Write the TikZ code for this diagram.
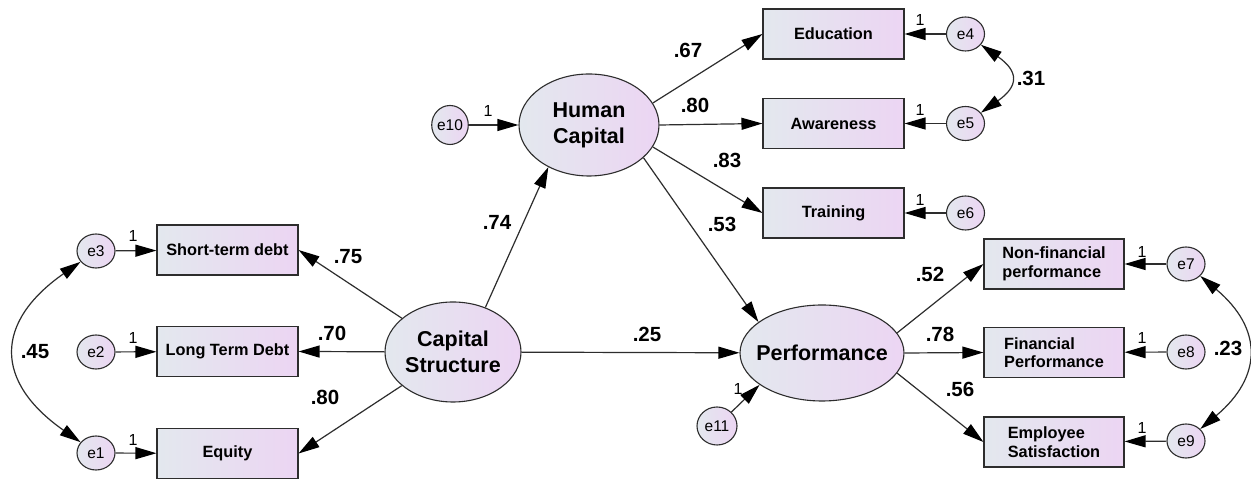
\documentclass[tikz,border=0pt]{standalone}
\usepackage{fontspec}
\setmainfont{Liberation Sans}
\usetikzlibrary{shapes.geometric,arrows.meta}

\definecolor{fillA}{RGB}{227,232,238}
\definecolor{fillB}{RGB}{236,213,243}
\definecolor{linec}{RGB}{45,45,45}

\tikzset{
  obs/.style={draw=linec, line width=1.1pt, rectangle, left color=fillA, right color=fillB,
    minimum width=141pt, minimum height=50pt, inner sep=0pt,
    font=\fontsize{16.3}{18.5}\selectfont\bfseries, align=left},
  latent/.style={draw=linec, line width=1.1pt, ellipse, left color=fillA, right color=fillB,
    inner sep=0pt},
  lattext/.style={font=\fontsize{21.5}{26}\selectfont\bfseries, align=center, inner sep=0pt},
  err/.style={draw=linec, line width=1.1pt, ellipse, left color=fillA, right color=fillB,
    minimum width=38pt, minimum height=34pt, inner sep=0pt,
    font=\fontsize{15.5}{17}\selectfont},
  coef/.style={font=\fontsize{20.5}{23}\selectfont\bfseries, inner sep=0pt},
  one/.style={font=\fontsize{16}{18}\selectfont, inner sep=0pt},
  tip/.style={Triangle[length=21pt,width=12pt,fill=black,color=black]},
  reg/.style={draw=linec, line width=1.2pt, -{Triangle[length=21pt,width=12pt,color=black]}},
  cov/.style={draw=linec, line width=1.2pt,
    {Triangle[length=21pt,width=12pt,color=black]}-{Triangle[length=21pt,width=12pt,color=black]}},
}

\begin{document}
\begin{tikzpicture}[x=1pt,y=1pt]
\useasboundingbox[fill=white] (0,0) rectangle (1251,481);

% Capital structure block
\node[latent, minimum width=136pt, minimum height=100pt,
  label={[lattext]center:Capital\\Structure}] (cs) at (453,129) {};
\node[obs] (std) at (227.5,231) {Short-term debt};
\node[obs] (ltd) at (227.5,129.5) {Long Term Debt};
\node[obs] (eq)  at (227.5,27.5) {Equity};
\node[err] (e3) at (96,230) {e3};
\node[err] (e2) at (96,129) {e2};
\node[err] (e1) at (96,28) {e1};

% Human capital block
\node[latent, minimum width=140pt, minimum height=102pt,
  label={[lattext]center:Human\\Capital}] (hc) at (589,356) {};
\node[err, minimum width=36pt, minimum height=39pt] (e10) at (450,356) {e10};
\node[obs] (edu) at (833.5,447) {Education};
\node[obs] (aw)  at (833.5,357.5) {Awareness};
\node[obs] (tr)  at (833.5,268) {Training};
\node[err] (e4) at (965.5,447) {e4};
\node[err] (e5) at (965.5,357.5) {e5};
\node[err] (e6) at (965.5,268) {e6};

% Performance block
\node[latent, minimum width=164pt, minimum height=96pt,
  label={[lattext]center:Performance}] (perf) at (822,128) {};
\node[err, minimum width=40pt, minimum height=38pt] (e11) at (717,55) {e11};
\node[obs, minimum width=140pt] (nf)  at (1054,217) {Non-financial\\performance};
\node[obs, minimum width=140pt] (fin) at (1054,128.5) {Financial\\Performance};
\node[obs, minimum width=140pt] (emp) at (1054,39) {Employee\\Satisfaction};
\node[err] (e7) at (1186,217) {e7};
\node[err] (e8) at (1186,129) {e8};
\node[err] (e9) at (1186,40) {e9};

% structural paths
\draw[reg] (cs.54) -- (hc.226);
\draw[reg] (cs) -- (perf);
\draw[reg] (hc.-31) -- (perf.154);

% loadings
\draw[reg] (cs) -- (std.east);
\draw[reg] (cs) -- (ltd.east);
\draw[reg] (cs) -- (eq.east);
\draw[reg] (hc.19) -- (edu.west);
\draw[reg] (hc.east) -- (aw.west);
\draw[reg] (hc.-19) -- (tr.west);
\draw[reg] (perf.15) -- (nf.west);
\draw[reg] (perf.east) -- (fin.west);
\draw[reg] (perf.-15) -- (emp.west);

% error terms
\draw[reg] (e3) -- (std);
\draw[reg] (e2) -- (ltd);
\draw[reg] (e1) -- (eq);
\draw[reg] (e4) -- (edu);
\draw[reg] (e5) -- (aw);
\draw[reg] (e6) -- (tr);
\draw[reg] (e7) -- (nf);
\draw[reg] (e8) -- (fin);
\draw[reg] (e9) -- (emp);
\draw[reg] (e10) -- (hc);
\draw[reg] (e11) -- (perf.207);

% covariances
\draw[cov] (e3) to[out=215, in=145, looseness=1.5] (e1);
\draw[cov] (e4) to[out=-35, in=35, looseness=1.75] (e5);
\draw[cov] (e7) to[out=-40, in=40, looseness=1.37] (e9);

% coefficients
\node[coef] (c74) at (497,259) {.74};
\node[coef] (c75) at (348,224) {.75};
\node[coef] (c70) at (332,148) {.70};
\node[coef] (c80a) at (325,84) {.80};
\node[coef] (c25) at (647,147) {.25};
\node[coef] (c67) at (688,431) {.67};
\node[coef] (c80b) at (695,376) {.80};
\node[coef] (c83) at (727,321) {.83};
\node[coef] (c53) at (722,257) {.53};
\node[coef] (c52) at (930,207) {.52};
\node[coef] (c78) at (940,147) {.78};
\node[coef] (c56) at (960,92) {.56};
\node[coef] (c45) at (35,129) {.45};
\node[coef] (c31) at (1031,403) {.31};
\node[coef] (c23) at (1228,133) {.23};

% fixed weights
\node[one] (w3) at (133,245) {1};
\node[one] (w2) at (133,143) {1};
\node[one] (w1) at (133,41) {1};
\node[one] (w4) at (920,461) {1};
\node[one] (w5) at (920,371) {1};
\node[one] (w6) at (920,281) {1};
\node[one] (w7) at (1142,229) {1};
\node[one] (w8) at (1142,143) {1};
\node[one] (w9) at (1142,53) {1};
\node[one] (w10) at (488,370) {1};
\node[one] (w11) at (738,92) {1};
\end{tikzpicture}
\end{document}
